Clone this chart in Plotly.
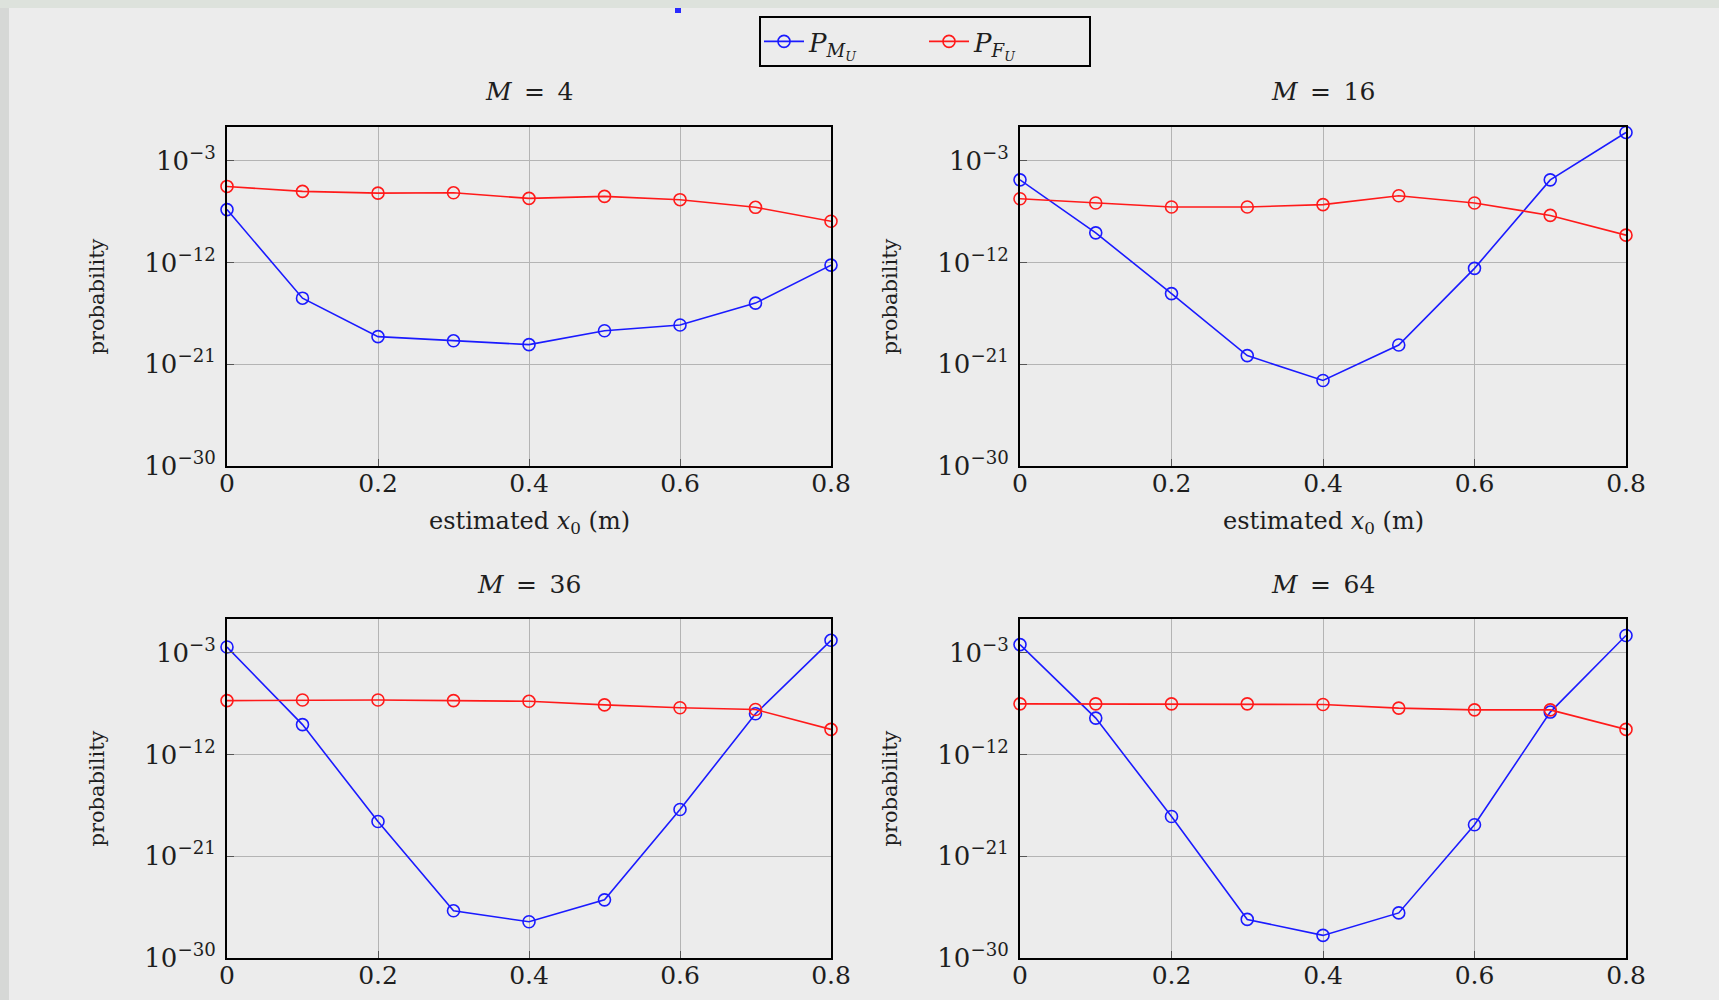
import plotly.graph_objects as go

# page is 1719x1000; body keeps its default 8px margin, so the figure is 16px smaller
PAGE_W, PAGE_H = 1719, 1000
OFF = 8
W, H = PAGE_W - 2 * OFF, PAGE_H - 2 * OFF

x_vals = [0.0, 0.1, 0.2, 0.3, 0.4, 0.5, 0.6, 0.7, 0.8]
x_ticks = [0, 0.2, 0.4, 0.6, 0.8]
x_ticktext = ["0", "0.2", "0.4", "0.6", "0.8"]
y_ticks = [1e-3, 1e-12, 1e-21, 1e-30]
y_ticktext = ["10<sup>\u22123</sup>", "10<sup>\u221212</sup>", "10<sup>\u221221</sup>", "10<sup>\u221230</sup>"]

m_values = ["4", "16", "36", "64"]

pmu_m4 = [4.9e-8, 7.1e-16, 2.8e-19, 1.2e-19, 5.5e-20, 9.3e-19, 3.0e-18, 2.6e-16, 6.0e-13]
pfu_m4 = [5.5e-6, 2.0e-6, 1.4e-6, 1.5e-6, 4.8e-7, 7.2e-7, 3.7e-7, 7.8e-8, 4.6e-9]

pmu_m16 = [2.1e-5, 4.3e-10, 1.8e-15, 5.9e-21, 3.7e-23, 5.1e-20, 3.1e-13, 2.1e-5, 3.3e-1]
pfu_m16 = [4.5e-7, 1.9e-7, 8.3e-8, 8.3e-8, 1.35e-7, 8.3e-7, 1.9e-7, 1.5e-8, 2.7e-10]

pmu_m36 = [3.3e-3, 4.5e-10, 1.2e-18, 1.5e-26, 1.6e-27, 1.4e-25, 1.4e-17, 4.1e-9, 1.3e-2]
pfu_m36 = [6.0e-8, 6.8e-8, 6.8e-8, 6.0e-8, 5.2e-8, 2.5e-8, 1.4e-8, 9.8e-9, 1.7e-10]

pmu_m64 = [5.4e-3, 1.7e-9, 3.3e-18, 2.6e-27, 1.0e-28, 9.8e-27, 6.2e-19, 5.8e-9, 3.5e-2]
pfu_m64 = [3.1e-8, 3.1e-8, 3.1e-8, 3.1e-8, 2.7e-8, 1.3e-8, 9.1e-9, 9.1e-9, 1.7e-10]

series = [(pmu_m4, pfu_m4), (pmu_m16, pfu_m16), (pmu_m36, pfu_m36), (pmu_m64, pfu_m64)]

BG = "#ececec"
FONT = "DejaVu Serif"
TXT = "#1e1e1e"
BLUE = "#1a1aff"
RED = "#ff1a1a"


def px(xp):
    return (xp - OFF) / W


def py(yp):
    return 1 - (yp - OFF) / H


# page-pixel geometry of the four panels (left, right, top, bottom)
panels = [
    (227, 831, 127, 466),
    (1020, 1626, 127, 466),
    (227, 831, 619, 958),
    (1020, 1626, 619, 958),
]

fig = go.Figure()
annotations = []
layout_axes = {}

for i, ((pmu, pfu), (l, r, t, b)) in enumerate(zip(series, panels)):
    n = i + 1
    xa = "x" if n == 1 else f"x{n}"
    ya = "y" if n == 1 else f"y{n}"
    fig.add_trace(go.Scatter(
        x=x_vals, y=pmu, xaxis=xa, yaxis=ya, mode="lines+markers",
        name="<i>P</i><sub><i>M</i><sub><i>U</i></sub></sub>",
        line=dict(color=BLUE, width=1.6),
        marker=dict(symbol="circle-open", size=12, color=BLUE, line=dict(width=1.6)),
        cliponaxis=False, showlegend=(i == 0), legendgroup="pmu"))
    fig.add_trace(go.Scatter(
        x=x_vals, y=pfu, xaxis=xa, yaxis=ya, mode="lines+markers",
        name="<i>P</i><sub><i>F</i><sub><i>U</i></sub></sub>",
        line=dict(color=RED, width=1.6),
        marker=dict(symbol="circle-open", size=12, color=RED, line=dict(width=1.6)),
        cliponaxis=False, showlegend=(i == 0), legendgroup="pfu"))

    xkey = "xaxis" if n == 1 else f"xaxis{n}"
    ykey = "yaxis" if n == 1 else f"yaxis{n}"
    layout_axes[xkey] = dict(
        domain=[px(l), px(r)], anchor=ya, range=[0, 0.8], automargin=False,
        tickvals=x_ticks, ticktext=x_ticktext,
        showgrid=True, gridcolor="#b4b4b4", gridwidth=1,
        showline=True, linecolor="black", linewidth=2, mirror=True,
        ticks="inside", ticklen=7, tickcolor="#555555", ticklabelstandoff=-6,
        tickfont=dict(family=FONT, size=25, color=TXT),
        zeroline=False)
    layout_axes[ykey] = dict(
        domain=[py(b), py(t)], anchor=xa, type="log", range=[-30, 0], automargin=False,
        tickvals=y_ticks, ticktext=y_ticktext,
        showgrid=True, gridcolor="#b4b4b4", gridwidth=1,
        showline=True, linecolor="black", linewidth=2, mirror=True,
        ticks="inside", ticklen=7, tickcolor="#555555", ticklabelstandoff=4,
        tickfont=dict(family=FONT, size=26, color=TXT),
        zeroline=False)

    cx = px((l + r) / 2)
    annotations.append(dict(
        x=cx, y=py(t - 35), xref="paper", yref="paper",
        text=f"<i>M</i>\u2002=\u2002{m_values[i]}", showarrow=False,
        font=dict(family=FONT, size=25, color=TXT),
        xanchor="center", yanchor="middle"))
    annotations.append(dict(
        x=px(l - 131), y=py((t + b) / 2), xref="paper", yref="paper",
        text="probability", textangle=-90, showarrow=False,
        font=dict(family=FONT, size=21, color=TXT),
        xanchor="center", yanchor="middle"))
    if i < 2:
        annotations.append(dict(
            x=cx, y=py(b + 56), xref="paper", yref="paper",
            text="estimated <i>x</i><sub>0</sub> (m)", showarrow=False,
            font=dict(family=FONT, size=24, color=TXT),
            xanchor="center", yanchor="middle"))

shapes = [
    dict(type="rect", xref="paper", yref="paper", x0=0, x1=px(9), y0=0, y1=1,
         fillcolor="#d6d8d6", line=dict(width=0), layer="below"),
    dict(type="rect", xref="paper", yref="paper", x0=px(675), x1=px(681), y0=py(13), y1=1,
         fillcolor="#2a2aff", line=dict(width=0)),
]

fig.update_layout(
    width=W, height=H,
    margin=dict(l=0, r=0, t=0, b=0, autoexpand=False),
    paper_bgcolor=BG, plot_bgcolor=BG,
    font=dict(family=FONT, color=TXT),
    showlegend=True,
    legend=dict(
        orientation="h", x=px(925), y=py(16), xanchor="center", yanchor="top",
        bgcolor=BG, bordercolor="black", borderwidth=2,
        font=dict(family=FONT, size=26, color=TXT),
        entrywidth=110, entrywidthmode="pixels", itemwidth=40, tracegroupgap=0),
    annotations=annotations,
    shapes=shapes,
    **layout_axes,
)

fig.write_html(
    "out.html",
    config={"displayModeBar": False},
    post_script=(
        "document.body.style.background="
        "'linear-gradient(to bottom, #dde2dc 0px, #dde2dc 8px, rgba(0,0,0,0) 8px),"
        " linear-gradient(to right, #d6d8d6 0px, #d6d8d6 9px, #ececec 9px)';"
    ),
)
